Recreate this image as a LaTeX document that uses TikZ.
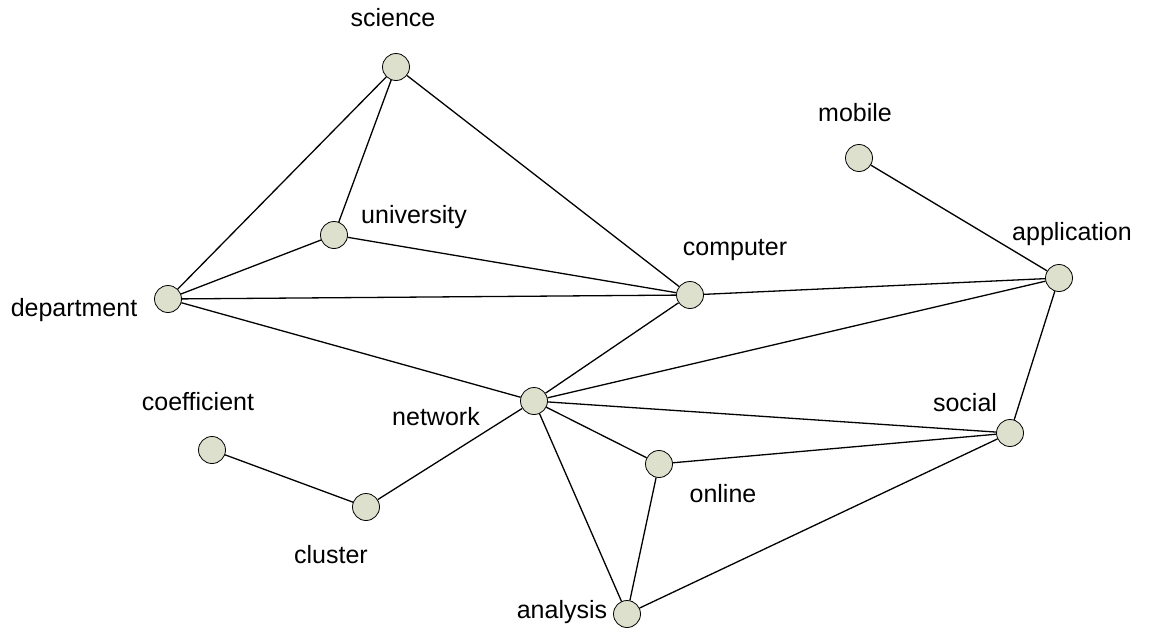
\documentclass[tikz,border=0pt]{standalone}
\usepackage{fontspec}
\setmainfont{Liberation Sans}
\definecolor{nodefill}{RGB}{221,224,205}
\begin{document}
\begin{tikzpicture}[x=1pt,y=-1pt,
  vert/.style={circle,draw=black,fill=nodefill,line width=0.8pt,minimum size=27pt,inner sep=0pt},
  lab/.style={font=\fontsize{25}{29}\selectfont,inner sep=0pt},
  edge/.style={line width=1.3pt}]
\useasboundingbox (0,0) rectangle (1152,632);
\node[vert] (science) at (396,67) {};
\node[vert] (university) at (334,235) {};
\node[vert] (department) at (168,299) {};
\node[vert] (computer) at (690,295) {};
\node[vert] (mobile) at (859,158) {};
\node[vert] (application) at (1059,278) {};
\node[vert] (network) at (534,401) {};
\node[vert] (social) at (1010,433) {};
\node[vert] (online) at (659,464) {};
\node[vert] (coefficient) at (212,450) {};
\node[vert] (cluster) at (366,507) {};
\node[vert] (analysis) at (627,614) {};
\draw[edge] (science) -- (university);
\draw[edge] (science) -- (department);
\draw[edge] (science) -- (computer);
\draw[edge] (university) -- (department);
\draw[edge] (university) -- (computer);
\draw[edge] (department) -- (computer);
\draw[edge] (department) -- (network);
\draw[edge] (computer) -- (application);
\draw[edge] (computer) -- (network);
\draw[edge] (mobile) -- (application);
\draw[edge] (application) -- (network);
\draw[edge] (application) -- (social);
\draw[edge] (network) -- (social);
\draw[edge] (network) -- (online);
\draw[edge] (network) -- (analysis);
\draw[edge] (network) -- (cluster);
\draw[edge] (online) -- (social);
\draw[edge] (online) -- (analysis);
\draw[edge] (analysis) -- (social);
\draw[edge] (coefficient) -- (cluster);
\node[lab] (lscience) at (393,18) {science};
\node[lab] (luniversity) at (414,217) {university};
\node[lab] (lcomputer) at (735,250) {computer};
\node[lab] (lmobile) at (855,113) {mobile};
\node[lab] (lapplication) at (1072,234) {application};
\node[lab] (ldepartment) at (74,310) {department};
\node[lab] (lcoefficient) at (198,402) {coefficient};
\node[lab] (lnetwork) at (436,417) {network};
\node[lab] (lsocial) at (965,403) {social};
\node[lab] (lonline) at (723,494) {online};
\node[lab] (lcluster) at (331,555) {cluster};
\node[lab] (lanalysis) at (562,612) {analysis};
\end{tikzpicture}
\end{document}
